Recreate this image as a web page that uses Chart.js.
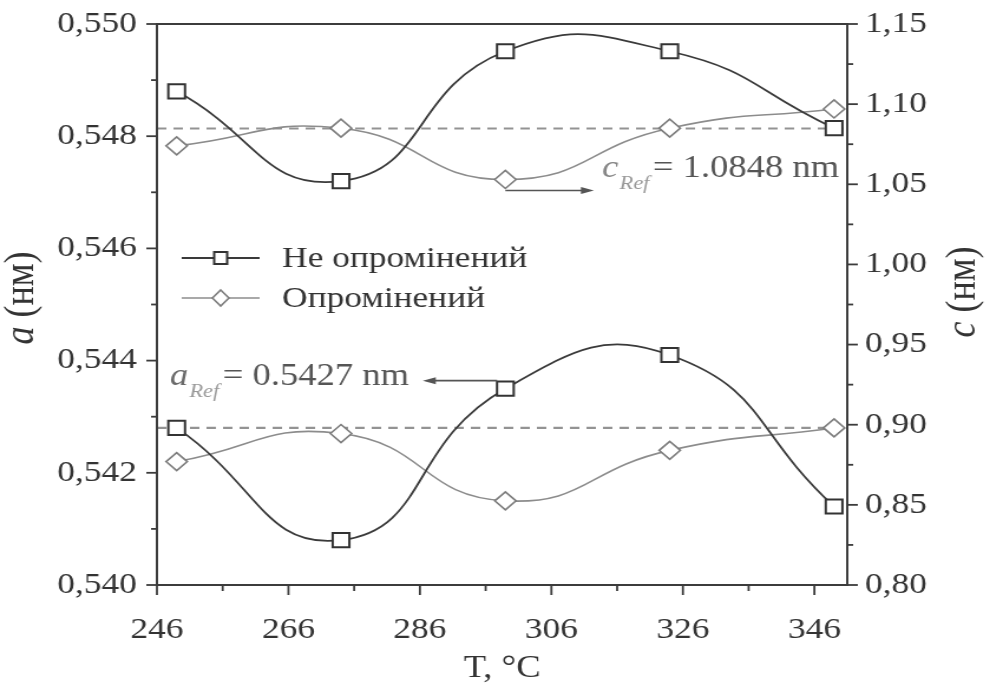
<!DOCTYPE html>
<html>
<head>
<meta charset="utf-8">
<script src="https://cdn.jsdelivr.net/npm/chart.js@4.4.0/dist/chart.umd.min.js"></script>
<style>
  html, body { margin: 0; padding: 0; background: #fff; overflow: hidden; }
  #chart { transform: scaleX(1.18); transform-origin: 0 0; }
</style>
</head>
<body>
<canvas id="chart" width="839" height="695"></canvas>
<script>
// Температура відпалу, °C
const temps = [249, 274, 299, 324, 349];

// Параметр c (права вісь), нм
const cNon = [1.108, 1.052, 1.133, 1.133, 1.085];
const cIrr = [1.074, 1.085, 1.053, 1.085, 1.097];

// Параметр a (ліва вісь), нм
const aNon = [0.5428, 0.5408, 0.5435, 0.5441, 0.5414];
const aIrr = [0.5422, 0.5427, 0.5415, 0.5424, 0.5428];

// Еталонні значення (пунктир)
const cRef = 1.0848;
const aRef = 0.5428;

// Поділки осей
const xTicks = [246, 266, 286, 306, 326, 346];
const xMinor = [256, 276, 296, 316, 336];
const aTicks = [0.540, 0.542, 0.544, 0.546, 0.548, 0.550];
const aMinor = [0.541, 0.543, 0.545, 0.547, 0.549];
const cTicks = [0.80, 0.85, 0.90, 0.95, 1.00, 1.05, 1.10, 1.15];
const cMinor = [0.825, 0.875, 0.925, 0.975, 1.025, 1.075, 1.125];

const seriesNames = ["Не опромінений", "Опромінений"];

const FONT = "'Liberation Serif', 'Times New Roman', serif";
const AXIS = "#3c3c3c";

const pts = ys => ys.map((y, i) => ({ x: temps[i], y: y }));
const flat = v => [{ x: 246, y: v }, { x: 351, y: v }];

const nonStyle = {
  borderColor: "#3a3a3a",
  borderWidth: 1.8,
  pointStyle: "rect",
  pointRadius: 10,
  pointBorderWidth: 2,
  pointBorderColor: "#333",
  pointBackgroundColor: "#fff",
  tension: 0.5
};
const irrStyle = {
  borderColor: "#8c8c8c",
  borderWidth: 1.6,
  pointStyle: "rectRot",
  pointRadius: 9,
  pointBorderWidth: 1.6,
  pointBorderColor: "#7c7c7c",
  pointBackgroundColor: "#fff",
  tension: 0.5
};
const dashStyle = {
  borderColor: "#939393",
  borderWidth: 2.2,
  borderDash: [8, 6],
  pointRadius: 0,
  tension: 0
};

function line(ctx, x1, y1, x2, y2) {
  ctx.beginPath();
  ctx.moveTo(x1, y1);
  ctx.lineTo(x2, y2);
  ctx.stroke();
}

function arrow(ctx, x1, x2, y) {
  ctx.strokeStyle = "#555";
  ctx.fillStyle = "#555";
  ctx.lineWidth = 1.6;
  const dir = x2 > x1 ? 1 : -1;
  line(ctx, x1, y, x2 - dir * 8, y);
  ctx.beginPath();
  ctx.moveTo(x2, y);
  ctx.lineTo(x2 - dir * 11, y - 3.5);
  ctx.lineTo(x2 - dir * 11, y + 3.5);
  ctx.closePath();
  ctx.fill();
}

// підписи a_Ref / c_Ref
function refLabel(ctx, x, y, letter, value, letterColor) {
  ctx.textBaseline = "alphabetic";
  ctx.textAlign = "left";
  ctx.font = "italic 31px " + FONT;
  ctx.fillStyle = letterColor;
  ctx.fillText(letter, x, y);
  let px = x + ctx.measureText(letter).width + 1;
  ctx.font = "italic 19px " + FONT;
  ctx.fillStyle = "#999";
  ctx.fillText("Ref", px, y + 12);
  px += ctx.measureText("Ref").width + 3;
  ctx.font = "31px " + FONT;
  ctx.fillStyle = "#555";
  ctx.fillText("= " + value + " nm", px, y);
}

function axisTitle(ctx, cx, cy, letter) {
  ctx.save();
  ctx.translate(cx, cy);
  ctx.rotate(-Math.PI / 2);
  ctx.textBaseline = "middle";
  ctx.textAlign = "left";
  ctx.font = "italic 36px " + FONT;
  const w1 = ctx.measureText(letter).width;
  ctx.font = "36px " + FONT;
  const w2 = ctx.measureText(" (нм)").width;
  const x0 = -(w1 + w2) / 2;
  ctx.fillStyle = "#333";
  ctx.font = "italic 36px " + FONT;
  ctx.fillText(letter, x0, 0);
  ctx.font = "36px " + FONT;
  ctx.fillText(" (нм)", x0 + w1, 0);
  ctx.restore();
}

const decor = {
  id: "decor",
  afterDraw(chart) {
    const { ctx, chartArea: ca, scales } = chart;
    const xs = scales.x, as = scales.a, cs = scales.c;
    ctx.save();

    // рамка
    ctx.strokeStyle = AXIS;
    ctx.lineWidth = 2;
    ctx.strokeRect(ca.left, ca.top, ca.right - ca.left, ca.bottom - ca.top);

    // поділки
    ctx.lineWidth = 1.8;
    xTicks.forEach(v => { const p = xs.getPixelForValue(v); line(ctx, p, ca.bottom, p, ca.bottom + 10); });
    xMinor.forEach(v => { const p = xs.getPixelForValue(v); line(ctx, p, ca.bottom, p, ca.bottom + 6); });
    aTicks.forEach(v => { const p = as.getPixelForValue(v); line(ctx, ca.left, p, ca.left - 9, p); });
    aMinor.forEach(v => { const p = as.getPixelForValue(v); line(ctx, ca.left, p, ca.left - 5, p); });
    cTicks.forEach(v => { const p = cs.getPixelForValue(v); line(ctx, ca.right, p, ca.right + 9, p); });
    cMinor.forEach(v => { const p = cs.getPixelForValue(v); line(ctx, ca.right, p, ca.right + 5, p); });

    // назви осей
    axisTitle(ctx, 19, 298, "a");
    axisTitle(ctx, 817, 292, "c");
    ctx.font = "31px " + FONT;
    ctx.fillStyle = "#333";
    ctx.textAlign = "center";
    ctx.textBaseline = "middle";
    ctx.fillText("T, °C", (ca.left + ca.right) / 2, 669);

    // легенда
    const lx = ca.left + 21, lw = 66;
    const rows = [
      { y: 258, ds: chart.data.datasets[0] },
      { y: 298, ds: chart.data.datasets[1] }
    ];
    rows.forEach((r, i) => {
      ctx.strokeStyle = r.ds.borderColor;
      ctx.lineWidth = r.ds.borderWidth;
      line(ctx, lx, r.y, lx + lw, r.y);
      const mx = lx + lw / 2;
      ctx.fillStyle = "#fff";
      ctx.strokeStyle = r.ds.pointBorderColor;
      ctx.lineWidth = r.ds.pointBorderWidth;
      ctx.beginPath();
      if (i === 0) {
        ctx.rect(mx - 5.5, r.y - 6, 11, 12);
      } else {
        ctx.moveTo(mx, r.y - 8);
        ctx.lineTo(mx + 7, r.y);
        ctx.lineTo(mx, r.y + 8);
        ctx.lineTo(mx - 7, r.y);
        ctx.closePath();
      }
      ctx.fill();
      ctx.stroke();
      ctx.font = "30px " + FONT;
      ctx.fillStyle = "#333";
      ctx.textAlign = "left";
      ctx.textBaseline = "middle";
      ctx.fillText(seriesNames[i], lx + lw + 19, r.y + 1);
    });

    // стрілки та підписи еталонних значень
    const xMid = xs.getPixelForValue(temps[2]);
    const yc = cs.getPixelForValue(cIrr[2]) + 11;
    arrow(ctx, xMid, xMid + 75, yc);
    refLabel(ctx, xMid + 82, 177, "c", "1.0848", "#858585");

    const ya = as.getPixelForValue(aNon[2]) - 8;
    arrow(ctx, xMid - 7, xMid - 70, ya);
    refLabel(ctx, ca.left + 11, 385, "a", "0.5427", "#6a6a6a");

    ctx.restore();
  }
};

const tickFont = { family: FONT, size: 30 };

// фіксовані розміри осей, щоб область графіка збігалась з оригіналом
const fitY = w => s => { s.width = w; s.paddingTop = 0; s.paddingBottom = 0; };

new Chart(document.getElementById("chart"), {
  type: "line",
  data: {
    datasets: [
      Object.assign({ label: seriesNames[0], data: pts(cNon), yAxisID: "c" }, nonStyle),
      Object.assign({ label: seriesNames[1], data: pts(cIrr), yAxisID: "c" }, irrStyle),
      Object.assign({ label: seriesNames[0], data: pts(aNon), yAxisID: "a" }, nonStyle),
      Object.assign({ label: seriesNames[1], data: pts(aIrr), yAxisID: "a" }, irrStyle),
      Object.assign({ label: "cRef", data: flat(cRef), yAxisID: "c" }, dashStyle),
      Object.assign({ label: "aRef", data: flat(aRef), yAxisID: "a" }, dashStyle)
    ]
  },
  options: {
    responsive: false,
    animation: false,
    layout: { padding: { top: 24, left: 0, right: 0, bottom: 0 } },
    elements: { line: { capBezierPoints: false } },
    plugins: {
      legend: { display: false },
      tooltip: { enabled: false }
    },
    scales: {
      x: {
        type: "linear",
        min: 246,
        max: 351,
        afterBuildTicks: s => { s.ticks = xTicks.map(v => ({ value: v })); },
        afterFit: s => { s.height = 110; s.paddingLeft = 0; s.paddingRight = 0; },
        grid: { display: false, drawTicks: false },
        border: { display: false },
        ticks: { font: tickFont, color: "#333", padding: 27, maxRotation: 0, callback: v => String(v) }
      },
      a: {
        type: "linear",
        position: "left",
        min: 0.540,
        max: 0.550,
        afterBuildTicks: s => { s.ticks = aTicks.map(v => ({ value: v })); },
        afterFit: fitY(133),
        grid: { display: false, drawTicks: false },
        border: { display: false },
        ticks: { font: tickFont, color: "#333", padding: 17, callback: v => v.toFixed(3).replace(".", ",") }
      },
      c: {
        type: "linear",
        position: "right",
        min: 0.80,
        max: 1.15,
        afterBuildTicks: s => { s.ticks = cTicks.map(v => ({ value: v })); },
        afterFit: fitY(121),
        grid: { display: false, drawTicks: false },
        border: { display: false },
        ticks: { font: tickFont, color: "#333", padding: 15, callback: v => v.toFixed(2).replace(".", ",") }
      }
    }
  },
  plugins: [decor]
});
</script>
</body>
</html>
